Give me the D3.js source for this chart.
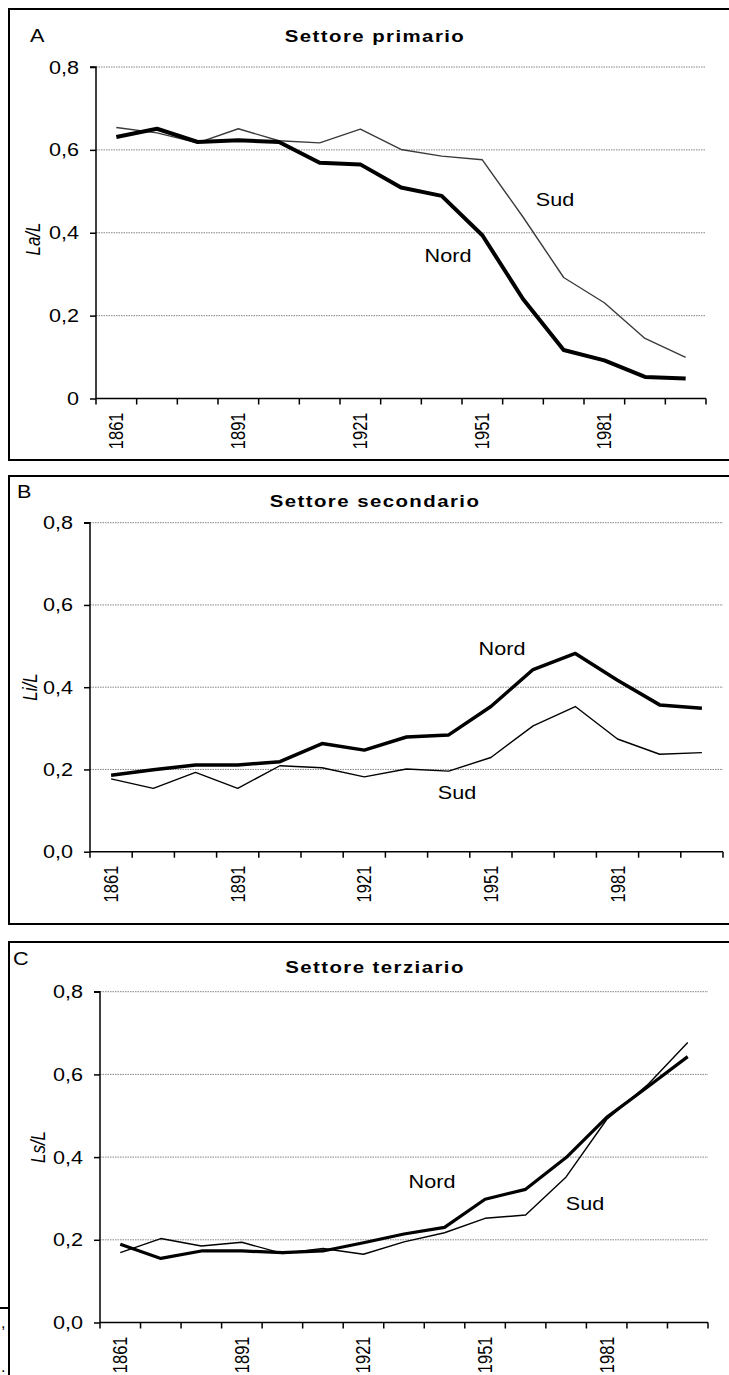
<!DOCTYPE html>
<html>
<head>
<meta charset="utf-8">
<script src="https://cdn.jsdelivr.net/npm/d3@7"></script>
<style>
  body { margin: 0; background: #fff; }
  svg { display: block; font-family: "Liberation Sans", Arial, sans-serif; }
</style>
</head>
<body>
<div id="chart"></div>
<script>
/** Data */
const years = [1861, 1871, 1881, 1891, 1901, 1911, 1921, 1931, 1941, 1951, 1961, 1971, 1981, 1991, 2001];
const tickYears = [1861, 1891, 1921, 1951, 1981];
const yTicks = [0, 0.2, 0.4, 0.6, 0.8];

const primNord = [0.631, 0.651, 0.619, 0.623, 0.619, 0.569, 0.565, 0.509, 0.489, 0.394, 0.240, 0.117, 0.092, 0.052, 0.048];
const primSud = [0.654, 0.641, 0.617, 0.651, 0.622, 0.617, 0.650, 0.601, 0.585, 0.576, 0.438, 0.292, 0.231, 0.145, 0.099];
const secNord = [0.186, 0.199, 0.211, 0.211, 0.219, 0.263, 0.247, 0.279, 0.284, 0.353, 0.443, 0.482, 0.417, 0.357, 0.349];
const secSud = [0.177, 0.154, 0.193, 0.154, 0.209, 0.204, 0.182, 0.201, 0.196, 0.229, 0.306, 0.353, 0.274, 0.237, 0.241];
const terNord = [0.189, 0.155, 0.173, 0.173, 0.169, 0.173, 0.193, 0.214, 0.230, 0.298, 0.322, 0.399, 0.496, 0.569, 0.643];
const terSud = [0.169, 0.203, 0.185, 0.194, 0.167, 0.179, 0.165, 0.195, 0.217, 0.252, 0.260, 0.352, 0.491, 0.574, 0.677];

/** Layout of the three panels */
const panels = [
  {
    letter: "A", title: "Settore primario", ylab: "La/L", zero: "0",
    nord: primNord, sud: primSud, sudColor: "#3a3a3a", nordWidth: 4,
    top: 9, bottom: 460, letterPos: [30, 42], titleY: 42,
    x0: 96, x1: 706, gridEnd: 705, yTop: 67, yBot: 398.5, ylabPos: [40, 239],
    nordLab: [448, 262], sudLab: [555, 206],
  },
  {
    letter: "B", title: "Settore secondario", ylab: "Li/L", zero: "0,0",
    nord: secNord, sud: secSud, sudColor: "#000", nordWidth: 3.5,
    top: 476, bottom: 924, letterPos: [17, 498], titleY: 507,
    x0: 90, x1: 723, gridEnd: 723, yTop: 522.7, yBot: 851.7, ylabPos: [37, 687],
    nordLab: [502, 655], sudLab: [457, 799],
  },
  {
    letter: "C", title: "Settore terziario", ylab: "Ls/L", zero: "0,0",
    nord: terNord, sud: terSud, sudColor: "#000", nordWidth: 3.2,
    top: 942, bottom: 1400, letterPos: [13, 965], titleY: 973,
    x0: 100, x1: 708, gridEnd: 708, yTop: 991.7, yBot: 1322.5, ylabPos: [45, 1147],
    nordLab: [432, 1188], sudLab: [585, 1210],
  },
];

const width = 729;
const height = 1375;
const sx = 1.2; // text in the source is horizontally stretched

const svg = d3
  .select("#chart")
  .append("svg")
  .attr("width", width)
  .attr("height", height);

svg.append("rect").attr("width", width).attr("height", height).attr("fill", "#fff");

const fmt = (d, zero) => (d === 0 ? zero : d3.format(".1f")(d).replace(".", ","));

const stretchText = (g, x, y, str, size, rot = 0) =>
  g
    .append("text")
    .attr("transform", `translate(${x},${y}) scale(${sx},1)` + (rot ? ` rotate(${rot})` : ""))
    .attr("font-size", size)
    .text(str);

panels.forEach((p) => {
  const g = svg.append("g");

  // panel frame
  g.append("rect")
    .attr("x", 9)
    .attr("y", p.top)
    .attr("width", 740)
    .attr("height", p.bottom - p.top)
    .attr("fill", "none")
    .attr("stroke", "#000")
    .attr("stroke-width", 2);

  const x = d3.scaleBand().domain(years).range([p.x0, p.x1]);
  const y = d3.scaleLinear().domain([0, 0.8]).range([p.yBot, p.yTop]);
  const cx = (d) => x(d) + x.bandwidth() / 2;

  // gridlines
  g.selectAll(".grid")
    .data(yTicks.filter((d) => d > 0))
    .enter()
    .append("line")
    .attr("x1", p.x0)
    .attr("x2", p.gridEnd)
    .attr("y1", (d) => y(d))
    .attr("y2", (d) => y(d))
    .attr("stroke", "#666")
    .attr("stroke-width", 0.8)
    .attr("stroke-dasharray", "1.5,1");

  // y axis
  const yAxis = g
    .append("g")
    .attr("transform", `translate(${p.x0},0)`)
    .call(d3.axisLeft(y).tickValues(yTicks).tickSize(6).tickFormat(() => ""));
  yAxis.selectAll("path, line").attr("stroke", "#000").attr("stroke-width", 1.5);
  yAxis.select(".domain").attr("d", `M-6,${p.yTop}H0V${p.yBot}`);

  yTicks.forEach((d) => {
    stretchText(g, p.x0 - 17, y(d) + 6.5, fmt(d, p.zero), 18).attr("text-anchor", "end");
  });

  // x axis: ticks on category boundaries
  const bounds = years.map((d) => x(d)).concat([p.x1]);
  g.append("line")
    .attr("x1", p.x0)
    .attr("x2", p.x1)
    .attr("y1", p.yBot)
    .attr("y2", p.yBot)
    .attr("stroke", "#000")
    .attr("stroke-width", 1.5);
  g.selectAll(".xtick")
    .data(bounds)
    .enter()
    .append("line")
    .attr("x1", (d) => d)
    .attr("x2", (d) => d)
    .attr("y1", p.yBot)
    .attr("y2", p.yBot + 6)
    .attr("stroke", "#000")
    .attr("stroke-width", 1.5);

  tickYears.forEach((d) => {
    stretchText(g, cx(d) + 7, p.yBot + 14, d, 16.5, -90).attr("text-anchor", "end");
  });

  // lines
  const line = (vals) =>
    d3
      .line()
      .x((d, i) => cx(years[i]))
      .y((d) => y(d))(vals);

  g.append("path")
    .attr("d", line(p.sud))
    .attr("fill", "none")
    .attr("stroke", p.sudColor)
    .attr("stroke-width", 1.4)
    .attr("stroke-linejoin", "round");

  g.append("path")
    .attr("d", line(p.nord))
    .attr("fill", "none")
    .attr("stroke", "#000")
    .attr("stroke-width", p.nordWidth)
    .attr("stroke-linejoin", "round");

  // texts
  stretchText(g, p.letterPos[0], p.letterPos[1], p.letter, 18);
  stretchText(g, 375, p.titleY, p.title, 17)
    .attr("text-anchor", "middle")
    .attr("font-weight", "bold")
    .attr("letter-spacing", 1.2);
  stretchText(g, p.ylabPos[0], p.ylabPos[1], p.ylab, 17, -90)
    .attr("text-anchor", "middle")
    .attr("font-style", "italic");
  stretchText(g, p.nordLab[0], p.nordLab[1], "Nord", 18).attr("text-anchor", "middle");
  stretchText(g, p.sudLab[0], p.sudLab[1], "Sud", 18).attr("text-anchor", "middle");
});

// stray edge of a neighbouring figure, bottom left
svg.append("line")
  .attr("x1", 0).attr("x2", 9)
  .attr("y1", 1308).attr("y2", 1308)
  .attr("stroke", "#000").attr("stroke-width", 2);
svg.append("text").attr("x", 1).attr("y", 1328).attr("font-size", 16).text(",");
svg.append("text").attr("x", 1).attr("y", 1372).attr("font-size", 16).text(".");
</script>
</body>
</html>
